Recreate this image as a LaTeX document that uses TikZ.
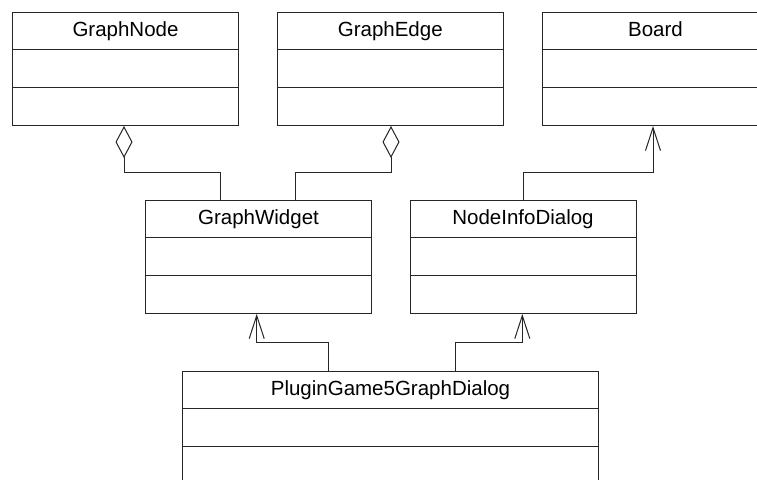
\documentclass[tikz,border=0pt]{standalone}
\usepackage{fontspec}
\setmainfont{Liberation Sans}
\usetikzlibrary{arrows.meta}

% Coordinates are in pixels: x to the right, y downwards.
\tikzset{
  x=1pt, y=-1pt,
  conn/.style={line width=1pt, draw=black!85},
  umlclass/.style={conn, rectangle, anchor=north west, inner sep=0pt},
  classname/.style={font=\fontsize{20.5}{24}\selectfont, inner sep=0pt, anchor=base},
  agg/.style={conn, -{Diamond[open, length=32pt, width=17pt]}},
  inh/.style={conn, -{Straight Barb[length=23pt, width=15pt]}},
}

% \umlclass{name}{x}{y}{width}{height}{title}: a class box with three compartments
\newcommand\umlclassbox[6]{%
  \node[umlclass, minimum width=#4pt, minimum height=#5pt] (#1) at (#2,#3) {};
  \node[classname] (#1-title) at ([yshift=-24.5pt]#1.north) {#6};
  \draw[conn] ([yshift=-37.5pt]#1.north west) -- ([yshift=-37.5pt]#1.north east);
  \draw[conn] ([yshift=-75pt]#1.north west) -- ([yshift=-75pt]#1.north east);
}

\begin{document}
\begin{tikzpicture}
  \clip (0,0) rectangle (757,479);
  \fill[white] (0,0) rectangle (757,479);

  % top row
  \umlclassbox{gn}{12}{12}{226}{113}{GraphNode}
  \umlclassbox{ge}{276.5}{12}{226.5}{113}{GraphEdge}
  \umlclassbox{board}{541.5}{12}{227}{113}{Board}

  % middle row
  \umlclassbox{gw}{145}{200}{226}{113}{GraphWidget}
  \umlclassbox{nid}{409.5}{200}{226}{113}{NodeInfoDialog}

  % bottom row
  \umlclassbox{pg}{182}{371}{416}{150}{PluginGame5GraphDialog}

  % aggregations
  \draw[agg] ([xshift=75pt]gw.north west) -- ++(0,-28) -| ([xshift=112pt]gn.south west);
  \draw[agg] ([xshift=150.7pt]gw.north west) -- ++(0,-28) -| ([xshift=114.5pt]ge.south west);

  % generalizations
  \draw[inh] ([xshift=114pt]nid.north west) -- ++(0,-28) -| ([xshift=111.5pt]board.south west);
  \draw[inh] ([xshift=146.3pt]pg.north west) -- ++(0,-29) -| ([xshift=111.7pt]gw.south west);
  \draw[inh] ([xshift=273.7pt]pg.north west) -- ++(0,-29) -| ([xshift=112.8pt]nid.south west);
\end{tikzpicture}
\end{document}
